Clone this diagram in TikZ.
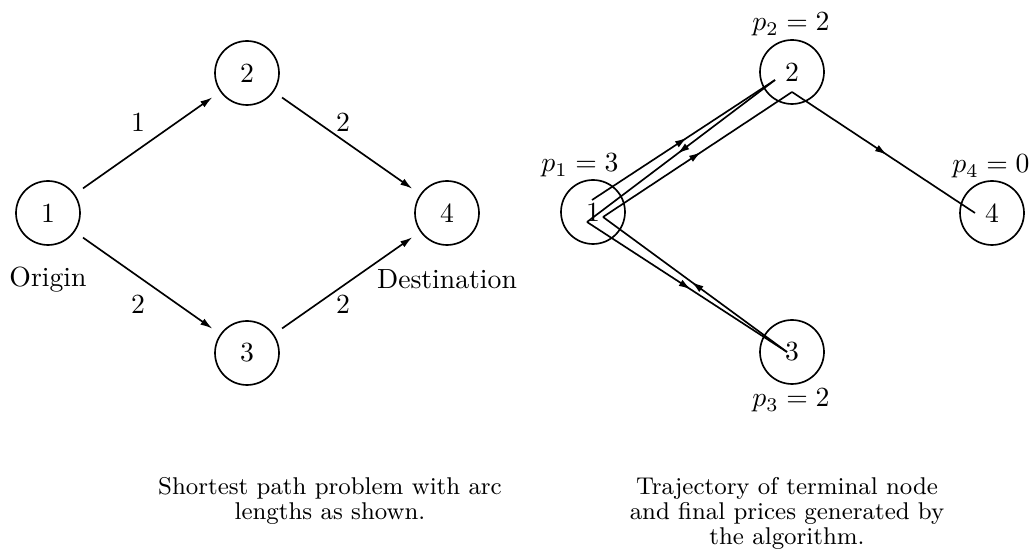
\documentclass[tikz,border=0pt]{standalone}
\usetikzlibrary{arrows.meta,decorations.markings}
\begin{document}
\begin{tikzpicture}[x=0.361pt,y=-0.361pt,
  line width=0.6pt,
  vertex/.style={circle,draw,line width=0.6pt,minimum size=23.1pt,inner sep=0pt,font=\fontsize{10}{12}\selectfont},
  arcedge/.style={-{Latex[length=4.4pt,width=2.6pt]},shorten <=3.6pt,shorten >=3.4pt},
  midarrow/.style={postaction=decorate,decoration={markings,mark=at position 0.52 with {\arrow{Latex[length=4.4pt,width=2.6pt]}}}},
  lbl/.style={inner sep=0pt,font=\fontsize{10}{12}\selectfont},
  caption/.style={inner sep=0pt,align=center,anchor=base,font=\fontsize{8.75}{9.2}\selectfont}]
\useasboundingbox (0,0) rectangle (1036,550);
% left diagram
\node[vertex] (L1) at (48,213) {1};
\node[vertex] (L2) at (247,73) {2};
\node[vertex] (L3) at (247,353) {3};
\node[vertex] (L4) at (447,213) {4};
\draw[arcedge] (L1) -- (L2);
\draw[arcedge] (L2) -- (L4);
\draw[arcedge] (L1) -- (L3);
\draw[arcedge] (L3) -- (L4);
\node[lbl] (w12) at (138,122) {1};
\node[lbl] (w24) at (343,122) {2};
\node[lbl] (w13) at (138,304) {2};
\node[lbl] (w34) at (343,304) {2};
\node[lbl,anchor=base] (orig) at (48,287) {Origin};
\node[lbl,anchor=base] (dest) at (447,289) {Destination};
\node[caption] (capL) at (330,520) {Shortest path problem with arc\\lengths as shown.};
% right diagram
\node[vertex] (R1) at (593,212) {1};
\node[vertex] (R2) at (792,72) {2};
\node[vertex] (R3) at (792,352) {3};
\node[vertex] (R4) at (992,213) {4};
\coordinate (t0) at (592,200);
\coordinate (t1) at (775,80);
\coordinate (t2) at (587,222);
\coordinate (t3) at (787,352);
\coordinate (t4) at (603,217);
\coordinate (t5) at (792,92);
\coordinate (t6) at (975,213);
\draw[midarrow] (t0) -- (t1);
\draw[midarrow] (t1) -- (t2);
\draw[midarrow] (t2) -- (t3);
\draw[midarrow] (t3) -- (t4);
\draw[midarrow] (t4) -- (t5);
\draw[midarrow] (t5) -- (t6);
\node[lbl,anchor=base] (p1) at (580,172) {$p_1=3$};
\node[lbl,anchor=base] (p2) at (791,31) {$p_2=2$};
\node[lbl,anchor=base] (p3) at (791,407) {$p_3=2$};
\node[lbl,anchor=base] (p4) at (991,173) {$p_4=0$};
\node[caption] (capR) at (787,545) {Trajectory of terminal node\\and final prices generated by\\the algorithm.};
\end{tikzpicture}
\end{document}
